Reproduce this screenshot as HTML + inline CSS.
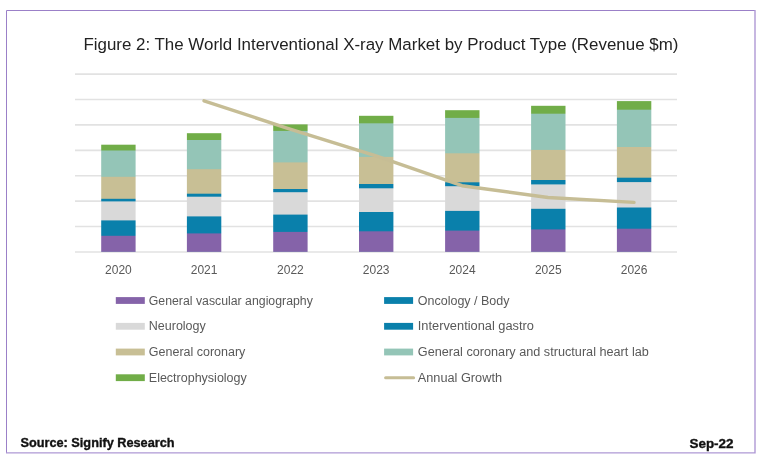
<!DOCTYPE html>
<html><head><meta charset="utf-8"><style>
html,body{margin:0;padding:0;background:#fff;}
body{width:771px;height:468px;overflow:hidden;}
svg{display:block;filter:blur(0.4px);}
text{font-family:"Liberation Sans",sans-serif;}
</style></head><body>
<svg width="771" height="468" viewBox="0 0 771 468">
<rect x="0" y="0" width="771" height="468" fill="#fff"/>

<path d="M6.5,453 L6.5,10.5 L755,10.5" fill="none" stroke="#9B80C8" stroke-width="1"/>
<path d="M6,452.9 L755,452.9 L755,10" fill="none" stroke="#AF99D5" stroke-width="1.4"/>
<text x="83.4" y="49.8" font-size="16.9" fill="#222" textLength="595" lengthAdjust="spacingAndGlyphs">Figure 2: The World Interventional X-ray Market by Product Type (Revenue $m)</text>
<line x1="75" x2="677" y1="74.10" y2="74.10" stroke="#E2E2E2" stroke-width="1.6"/>
<line x1="75" x2="677" y1="99.51" y2="99.51" stroke="#E2E2E2" stroke-width="1.6"/>
<line x1="75" x2="677" y1="124.92" y2="124.92" stroke="#E2E2E2" stroke-width="1.6"/>
<line x1="75" x2="677" y1="150.33" y2="150.33" stroke="#E2E2E2" stroke-width="1.6"/>
<line x1="75" x2="677" y1="175.74" y2="175.74" stroke="#E2E2E2" stroke-width="1.6"/>
<line x1="75" x2="677" y1="201.15" y2="201.15" stroke="#E2E2E2" stroke-width="1.6"/>
<line x1="75" x2="677" y1="226.56" y2="226.56" stroke="#E2E2E2" stroke-width="1.6"/>
<line x1="75" x2="677" y1="251.97" y2="251.97" stroke="#E2E2E2" stroke-width="1.6"/>
<defs>
<mask id="c0" maskUnits="userSpaceOnUse" x="0" y="0" width="771" height="468"><rect x="101.20" y="142.70" width="34.4" height="109.20" fill="#fff"/></mask>
<mask id="c1" maskUnits="userSpaceOnUse" x="0" y="0" width="771" height="468"><rect x="186.90" y="131.20" width="34.4" height="120.70" fill="#fff"/></mask>
<mask id="c2" maskUnits="userSpaceOnUse" x="0" y="0" width="771" height="468"><rect x="273.20" y="122.40" width="34.4" height="129.50" fill="#fff"/></mask>
<mask id="c3" maskUnits="userSpaceOnUse" x="0" y="0" width="771" height="468"><rect x="359.00" y="113.80" width="34.4" height="138.10" fill="#fff"/></mask>
<mask id="c4" maskUnits="userSpaceOnUse" x="0" y="0" width="771" height="468"><rect x="445.10" y="108.20" width="34.4" height="143.70" fill="#fff"/></mask>
<mask id="c5" maskUnits="userSpaceOnUse" x="0" y="0" width="771" height="468"><rect x="531.10" y="103.80" width="34.4" height="148.10" fill="#fff"/></mask>
<mask id="c6" maskUnits="userSpaceOnUse" x="0" y="0" width="771" height="468"><rect x="616.90" y="99.10" width="34.4" height="152.80" fill="#fff"/></mask>
</defs>
<g mask="url(#c0)">
<rect x="99.20" y="144.70" width="38.4" height="107.20" fill="#71AD48"/>
<rect x="99.20" y="150.50" width="38.4" height="101.40" fill="#94C5B7"/>
<rect x="99.20" y="176.80" width="38.4" height="75.10" fill="#C8BF95"/>
<rect x="99.20" y="198.80" width="38.4" height="53.10" fill="#0A80AB"/>
<rect x="99.20" y="201.40" width="38.4" height="50.50" fill="#D9D9D9"/>
<rect x="99.20" y="220.40" width="38.4" height="31.50" fill="#0A80AB"/>
<rect x="99.20" y="235.80" width="38.4" height="16.10" fill="#8563A9"/>
</g>
<g mask="url(#c1)">
<rect x="184.90" y="133.20" width="38.4" height="118.70" fill="#71AD48"/>
<rect x="184.90" y="140.00" width="38.4" height="111.90" fill="#94C5B7"/>
<rect x="184.90" y="169.20" width="38.4" height="82.70" fill="#C8BF95"/>
<rect x="184.90" y="193.70" width="38.4" height="58.20" fill="#0A80AB"/>
<rect x="184.90" y="196.70" width="38.4" height="55.20" fill="#D9D9D9"/>
<rect x="184.90" y="216.40" width="38.4" height="35.50" fill="#0A80AB"/>
<rect x="184.90" y="233.40" width="38.4" height="18.50" fill="#8563A9"/>
</g>
<g mask="url(#c2)">
<rect x="271.20" y="124.40" width="38.4" height="127.50" fill="#71AD48"/>
<rect x="271.20" y="130.90" width="38.4" height="121.00" fill="#94C5B7"/>
<rect x="271.20" y="162.40" width="38.4" height="89.50" fill="#C8BF95"/>
<rect x="271.20" y="189.00" width="38.4" height="62.90" fill="#0A80AB"/>
<rect x="271.20" y="192.20" width="38.4" height="59.70" fill="#D9D9D9"/>
<rect x="271.20" y="214.60" width="38.4" height="37.30" fill="#0A80AB"/>
<rect x="271.20" y="231.90" width="38.4" height="20.00" fill="#8563A9"/>
</g>
<g mask="url(#c3)">
<rect x="357.00" y="115.80" width="38.4" height="136.10" fill="#71AD48"/>
<rect x="357.00" y="123.30" width="38.4" height="128.60" fill="#94C5B7"/>
<rect x="357.00" y="156.90" width="38.4" height="95.00" fill="#C8BF95"/>
<rect x="357.00" y="184.00" width="38.4" height="67.90" fill="#0A80AB"/>
<rect x="357.00" y="188.30" width="38.4" height="63.60" fill="#D9D9D9"/>
<rect x="357.00" y="212.00" width="38.4" height="39.90" fill="#0A80AB"/>
<rect x="357.00" y="231.30" width="38.4" height="20.60" fill="#8563A9"/>
</g>
<g mask="url(#c4)">
<rect x="443.10" y="110.20" width="38.4" height="141.70" fill="#71AD48"/>
<rect x="443.10" y="117.90" width="38.4" height="134.00" fill="#94C5B7"/>
<rect x="443.10" y="153.30" width="38.4" height="98.60" fill="#C8BF95"/>
<rect x="443.10" y="182.30" width="38.4" height="69.60" fill="#0A80AB"/>
<rect x="443.10" y="186.20" width="38.4" height="65.70" fill="#D9D9D9"/>
<rect x="443.10" y="210.90" width="38.4" height="41.00" fill="#0A80AB"/>
<rect x="443.10" y="230.60" width="38.4" height="21.30" fill="#8563A9"/>
</g>
<g mask="url(#c5)">
<rect x="529.10" y="105.80" width="38.4" height="146.10" fill="#71AD48"/>
<rect x="529.10" y="113.70" width="38.4" height="138.20" fill="#94C5B7"/>
<rect x="529.10" y="149.90" width="38.4" height="102.00" fill="#C8BF95"/>
<rect x="529.10" y="180.00" width="38.4" height="71.90" fill="#0A80AB"/>
<rect x="529.10" y="184.40" width="38.4" height="67.50" fill="#D9D9D9"/>
<rect x="529.10" y="208.80" width="38.4" height="43.10" fill="#0A80AB"/>
<rect x="529.10" y="229.40" width="38.4" height="22.50" fill="#8563A9"/>
</g>
<g mask="url(#c6)">
<rect x="614.90" y="101.10" width="38.4" height="150.80" fill="#71AD48"/>
<rect x="614.90" y="109.70" width="38.4" height="142.20" fill="#94C5B7"/>
<rect x="614.90" y="147.00" width="38.4" height="104.90" fill="#C8BF95"/>
<rect x="614.90" y="177.70" width="38.4" height="74.20" fill="#0A80AB"/>
<rect x="614.90" y="182.10" width="38.4" height="69.80" fill="#D9D9D9"/>
<rect x="614.90" y="207.50" width="38.4" height="44.40" fill="#0A80AB"/>
<rect x="614.90" y="228.70" width="38.4" height="23.20" fill="#8563A9"/>
</g>
<path d="M204,100.8 L290,129.1 L376,155.8 L462,185.7 L548,197.5 L634,202.4" fill="none" stroke="#C6BD95" stroke-width="3.4" stroke-linecap="round" stroke-linejoin="round"/>
<text x="118.40" y="274.3" font-size="12" fill="#595959" text-anchor="middle">2020</text>
<text x="204.10" y="274.3" font-size="12" fill="#595959" text-anchor="middle">2021</text>
<text x="290.40" y="274.3" font-size="12" fill="#595959" text-anchor="middle">2022</text>
<text x="376.20" y="274.3" font-size="12" fill="#595959" text-anchor="middle">2023</text>
<text x="462.30" y="274.3" font-size="12" fill="#595959" text-anchor="middle">2024</text>
<text x="548.30" y="274.3" font-size="12" fill="#595959" text-anchor="middle">2025</text>
<text x="634.10" y="274.3" font-size="12" fill="#595959" text-anchor="middle">2026</text>
<rect x="115.8" y="297.1" width="29" height="6.8" fill="#8563A9"/>
<text x="148.8" y="304.5" font-size="12.5" fill="#595959" textLength="164" lengthAdjust="spacingAndGlyphs">General vascular angiography</text>
<rect x="115.8" y="322.9" width="29" height="6.8" fill="#D9D9D9"/>
<text x="148.8" y="330.3" font-size="12.5" fill="#595959">Neurology</text>
<rect x="115.8" y="348.6" width="29" height="6.8" fill="#C8BF95"/>
<text x="148.8" y="356.0" font-size="12.5" fill="#595959">General coronary</text>
<rect x="115.8" y="374.3" width="29" height="6.8" fill="#71AD48"/>
<text x="148.8" y="381.7" font-size="12.5" fill="#595959">Electrophysiology</text>
<rect x="384.1" y="297.1" width="29" height="6.8" fill="#0A80AB"/>
<text x="417.8" y="304.5" font-size="12.5" fill="#595959">Oncology / Body</text>
<rect x="384.1" y="322.9" width="29" height="6.8" fill="#0A80AB"/>
<text x="417.8" y="330.3" font-size="12.5" fill="#595959" textLength="116.2" lengthAdjust="spacingAndGlyphs">Interventional gastro</text>
<rect x="384.1" y="348.6" width="29" height="6.8" fill="#94C5B7"/>
<text x="417.8" y="356.0" font-size="12.5" fill="#595959" textLength="231" lengthAdjust="spacingAndGlyphs">General coronary and structural heart lab</text>
<line x1="385.6" x2="413.6" y1="377.7" y2="377.7" stroke="#C6BD95" stroke-width="3" stroke-linecap="round"/>
<text x="417.8" y="381.7" font-size="12.5" fill="#595959" textLength="84.2" lengthAdjust="spacingAndGlyphs">Annual Growth</text>
<text x="20.5" y="446.7" font-size="12.3" font-weight="bold" fill="#111" stroke="#111" stroke-width="0.35" textLength="154" lengthAdjust="spacingAndGlyphs">Source: Signify Research</text>
<text x="689.5" y="448.1" font-size="12.3" font-weight="bold" fill="#111" stroke="#111" stroke-width="0.35" textLength="44" lengthAdjust="spacingAndGlyphs">Sep-22</text>
</svg>
</body></html>
